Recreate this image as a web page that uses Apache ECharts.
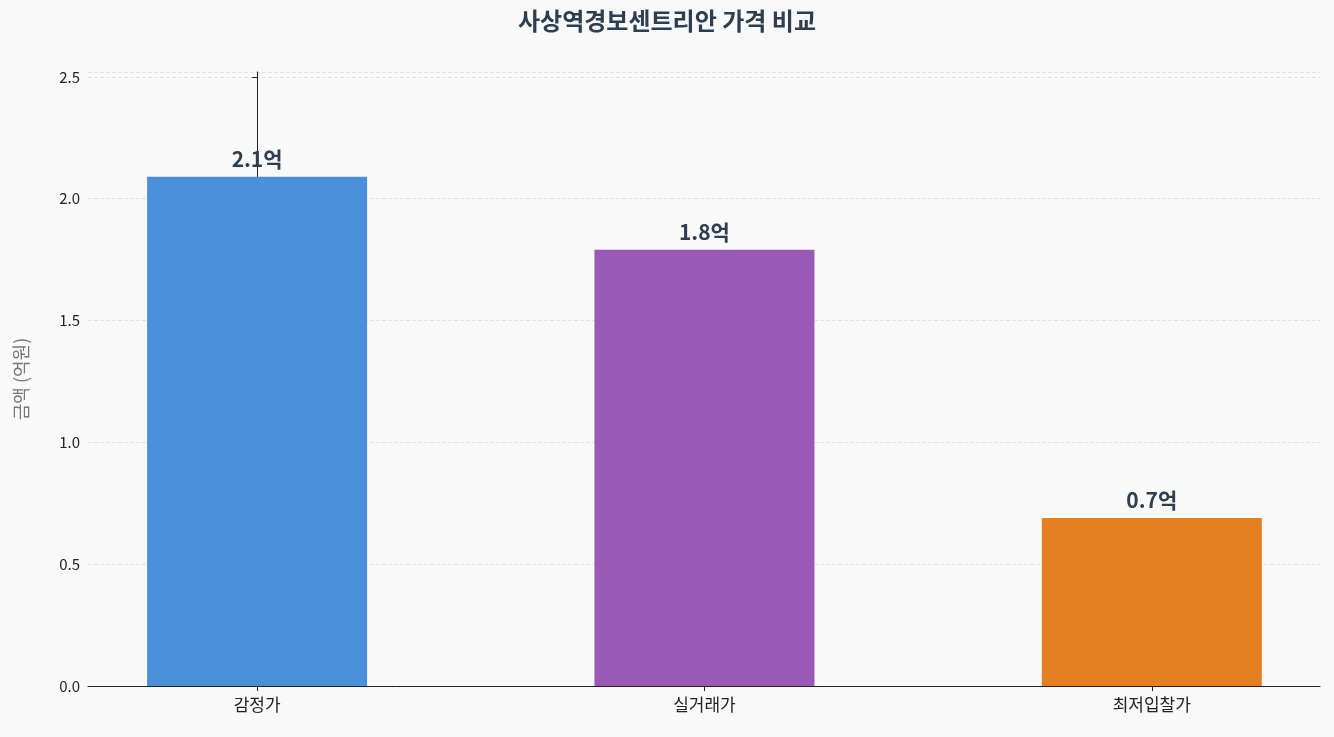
<!DOCTYPE html>
<html><head><meta charset="utf-8">
<script src="https://cdn.jsdelivr.net/npm/echarts@6/dist/echarts.min.js"></script>
<style>html,body{margin:0;padding:0;background:#f9f9f9}#c{width:1334px;height:737px}</style>
</head><body><div id="c"></div>
<script>
const categories = ['감정가', '실거래가', '최저입찰가'];
const values = [2.09, 1.79, 0.69];
const labels = ['2.1억', '1.8억', '0.7억'];
const colors = ['#4a90d9', '#9b59b6', '#e67e22'];
const yTicks = [0, 0.5, 1.0, 1.5, 2.0, 2.5];
const font = '"Noto Sans CJK KR", "Noto Sans", sans-serif';
const chart = echarts.init(document.getElementById('c'));
chart.setOption({
  backgroundColor: '#f9f9f9',
  textStyle: { fontFamily: font },
  title: { text: '사상역경보센트리안 가격 비교', left: 'center', top: 4,
    textStyle: { fontFamily: font, fontSize: 24, fontWeight: 'bold', color: '#2c3e50' } },
  grid: { left: 88, right: 14, top: 72, bottom: 51 },
  xAxis: { type: 'value', min: -0.378, max: 2.376,
    axisLine: { lineStyle: { color: '#222' } },
    axisTick: { show: true, customValues: [0, 1, 2], lineStyle: { color: '#222' } },
    splitLine: { show: false },
    axisLabel: { fontSize: 17, color: '#222', margin: 10, fontFamily: font, customValues: [0, 1, 2],
      formatter: v => categories[Math.round(v)] } },
  yAxis: { type: 'value', min: 0, max: 2.52, interval: 0.5,
    name: '금액 (억원)', nameLocation: 'middle', nameGap: 58,
    nameTextStyle: { fontSize: 18, color: '#777', fontFamily: font },
    axisLine: { show: true, lineStyle: { color: '#222' } }, axisTick: { show: true, lineStyle: { color: '#222' } },
    axisLabel: { fontSize: 15, color: '#222', formatter: v => v.toFixed(1) },
    splitLine: { lineStyle: { type: 'dashed', color: '#e2e2e2' } } },
  series: [{ type: 'bar', barWidth: 220,
    data: values.map((v, i) => ({ value: [i, v], itemStyle: { color: colors[i] } })),
    label: { show: true, position: 'top', distance: 7, fontSize: 21, fontWeight: 'bold', color: '#2c3e50',
      formatter: p => labels[p.dataIndex] } }]
});
</script></body></html>
